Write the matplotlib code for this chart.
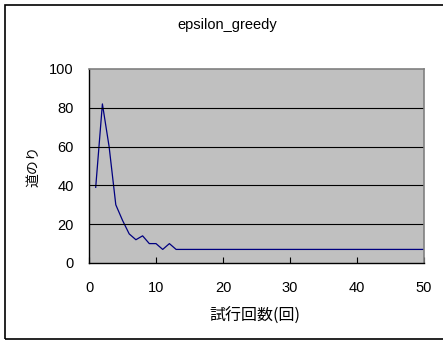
import numpy as np
import matplotlib
matplotlib.use("Agg")
from matplotlib import pyplot as plt
from matplotlib.patches import Rectangle

plt.rcParams['font.family'] = ['Liberation Sans', 'Noto Sans CJK JP', 'DejaVu Sans']

# trial number and path length
trials = np.arange(1, 51)
steps_head = [39, 82, 60, 30, 22, 15, 12, 14, 10, 10, 7, 10, 7]
steps = np.array(steps_head + [7] * (len(trials) - len(steps_head)))

title = "epsilon_greedy"
xlabel = "試行回数(回)"
ylabel = "道のり"
xticks = [0, 10, 20, 30, 40, 50]
yticks = [0, 20, 40, 60, 80, 100]

fig = plt.figure(figsize=(4.43, 3.40), dpi=100)
fig.patches.append(Rectangle((5 / 443, 1 / 340), 1.2, 334 / 340, transform=fig.transFigure,
                             fill=False, edgecolor='black', linewidth=1.2))

ax = fig.add_axes([89 / 443, 77 / 340, 335 / 443, 194 / 340])
ax.set_facecolor('#c0c0c0')
ax.plot(trials, steps, color='#000080', linewidth=0.9)

ax.set_xlim(0, 50)
ax.set_ylim(0, 100)
ax.set_xticks(xticks)
ax.set_yticks(yticks)
for y in yticks[1:-1]:
    ax.axhline(y, color='black', linewidth=0.8)

ax.spines['top'].set_color('#808080')
ax.spines['right'].set_color('#808080')
ax.spines['top'].set_linewidth(1.2)
ax.spines['right'].set_linewidth(1.2)
ax.spines['left'].set_linewidth(1.0)
ax.spines['bottom'].set_linewidth(1.0)

ax.tick_params(axis='x', direction='in', length=4, width=0.8, pad=13, labelsize=10.5)
ax.tick_params(axis='y', length=0, pad=11, labelsize=10.5)

fig.text(227 / 443, 1 - 25 / 340, title, ha='center', va='center', fontsize=10.5)
fig.text(255 / 443, 1 - 316 / 340, xlabel, ha='center', va='center', fontsize=11.5,
         family=['Noto Sans CJK JP', 'DejaVu Sans'])
fig.text(33 / 443, 1 - 166 / 340, ylabel, ha='center', va='center', fontsize=10, rotation=90,
         family=['Noto Sans CJK JP', 'DejaVu Sans'])

fig.savefig("out.png", dpi=100)
